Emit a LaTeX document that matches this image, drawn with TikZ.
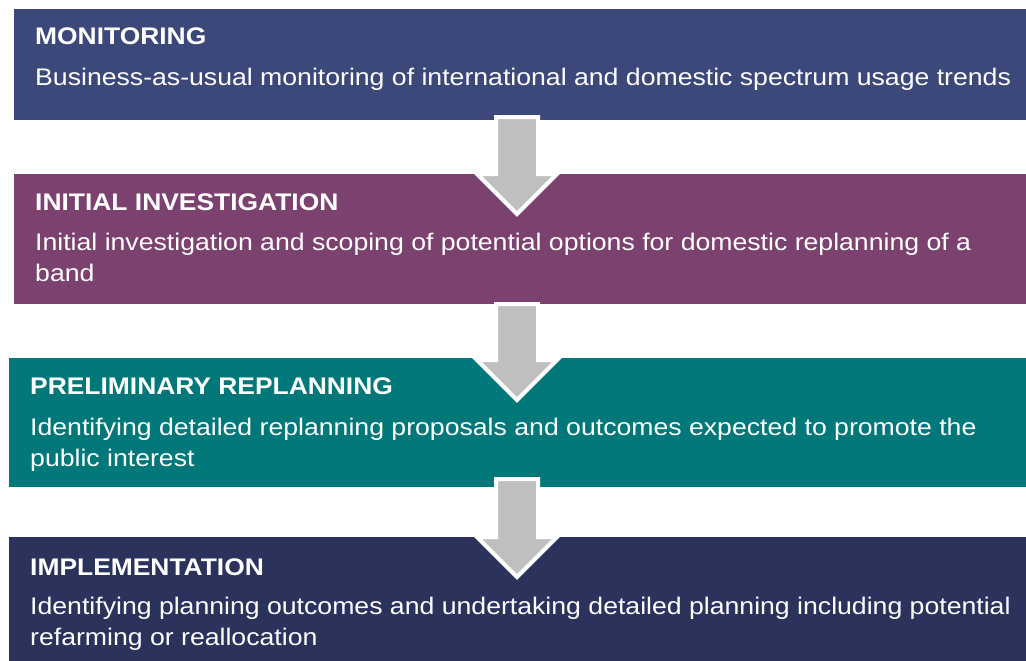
\documentclass[tikz,border=0pt]{standalone}
\usepackage{fontspec}
\setmainfont{Liberation Sans}
\newfontfamily\widefont[FakeStretch=1.1]{Liberation Sans}
\newfontfamily\widerfont[FakeStretch=1.11]{Liberation Sans}
\usetikzlibrary{calc}
\definecolor{cmon}{HTML}{3C477A}
\definecolor{cini}{HTML}{7B416F}
\definecolor{cpre}{HTML}{00787A}
\definecolor{cimp}{HTML}{2B325C}
\definecolor{cgray}{HTML}{BFBFBF}
\tikzset{
  box/.style={anchor=north west, inner sep=0pt, outer sep=0pt, draw=none},
  head/.style={anchor=base west, inner sep=0pt, text=white, font=\widefont\fontsize{24}{31}\selectfont\bfseries},
  body/.style={anchor=base west, inner sep=0pt, text=white, font=\widerfont\fontsize{24}{31}\selectfont, align=left},
  blockarrow/.style={fill=cgray, draw=white, line width=4pt, line join=miter},
}
\newcommand{\downarrowshape}[3]{% x center, top y, head base y
  \draw[blockarrow] (#1-21,#2) -- (#1+21,#2) -- (#1+21,#3) -- (#1+40,#3) -- (#1,#3+40) -- (#1-40,#3) -- (#1-21,#3) -- cycle;
}
\begin{document}
\begin{tikzpicture}[x=1pt,y=-1pt]
\useasboundingbox (0,0) rectangle (1026,661);
\fill[white] (0,0) rectangle (1026,661);
% boxes
\node[box, fill=cmon, minimum width=1012pt, minimum height=111pt] (b1) at (14,9) {};
\node[box, fill=cini, minimum width=1012pt, minimum height=130pt] (b2) at (14,174) {};
\node[box, fill=cpre, minimum width=1017pt, minimum height=129pt] (b3) at (9,358) {};
\node[box, fill=cimp, minimum width=1017pt, minimum height=124pt] (b4) at (9,537) {};
% texts (base = baseline of last line)
\node[head] (h1) at (35,45) {MONITORING};
\node[body] (t1) at (35,85) {Business-as-usual monitoring of international and domestic spectrum usage trends};
\node[head] (h2) at (35,210) {INITIAL INVESTIGATION};
\node[body] (t2) at (35,281) {Initial investigation and scoping of potential options for domestic replanning of a\\band};
\node[head] (h3) at (30,394) {PRELIMINARY REPLANNING};
\node[body] (t3) at (30,466) {Identifying detailed replanning proposals and outcomes expected to promote the\\public interest};
\node[head] (h4) at (30,575) {IMPLEMENTATION};
\node[body] (t4) at (30,645) {Identifying planning outcomes and undertaking detailed planning including potential\\refarming or reallocation};
% arrows
\downarrowshape{517}{117}{174}
\downarrowshape{517}{304}{360}
\downarrowshape{517}{479}{537}
\end{tikzpicture}
\end{document}
